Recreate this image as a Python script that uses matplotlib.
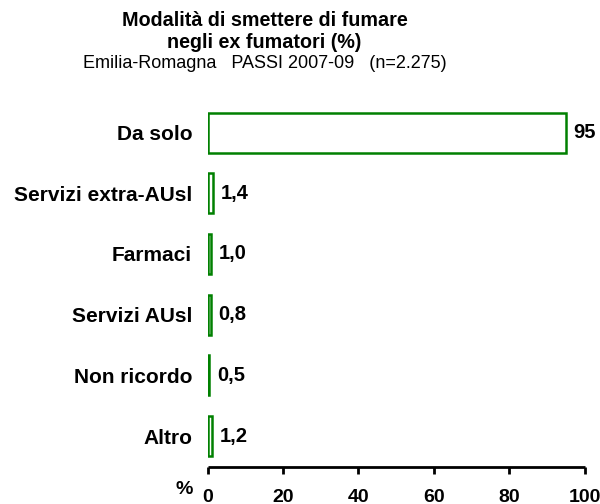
import matplotlib
matplotlib.use("Agg")
import matplotlib.pyplot as plt

categories = ["Da solo", "Servizi extra-AUsl", "Farmaci", "Servizi AUsl", "Non ricordo", "Altro"]
values = [95, 1.4, 1.0, 0.8, 0.5, 1.2]
value_labels = ["95", "1,4", "1,0", "0,8", "0,5", "1,2"]
xticks = [0, 20, 40, 60, 80, 100]

plt.rcParams['font.family'] = ['Liberation Sans', 'DejaVu Sans']

fig = plt.figure(figsize=(6, 5.04), dpi=100)
ax = fig.add_axes([207.5 / 600, 1 - 467 / 504, 377 / 600, 365.4 / 504])

green = "#008000"
y = list(range(len(categories)))
ax.barh(y, values, height=0.66, left=0, color="white", edgecolor=green, linewidth=1.8)
for yi, v, lab in zip(y, values, value_labels):
    ax.annotate(lab, xy=(v, yi), xytext=(5.5, 0), textcoords="offset points",
                va="center", ha="left", fontsize=14.5, fontweight="bold")

ax.set_xlim(0, 100)
ax.set_ylim(5.51, -0.51)
ax.set_yticks(y)
ax.set_yticklabels(categories, fontsize=15, fontweight="bold")
ax.tick_params(axis="y", length=0, pad=11)
ax.set_xticks(xticks)
ax.set_xticklabels([str(t) for t in xticks], fontsize=14, fontweight="bold")
ax.tick_params(axis="x", length=5, width=2, direction="out", pad=10.5)
for s in ["top", "right", "left"]:
    ax.spines[s].set_visible(False)
ax.spines["bottom"].set_linewidth(2)
ax.spines["bottom"].set_capstyle("butt")

fig.text(193 / 600, 1 - 489 / 504, "%", fontsize=14, fontweight="bold", ha="right", va="center")

fig.text(0.441, 1 - 20 / 504, "Modalità di smettere di fumare", fontsize=14.2, fontweight="bold", ha="center", va="center")
fig.text(0.441, 1 - 42 / 504, "negli ex fumatori (%)", fontsize=14.2, fontweight="bold", ha="center", va="center")
fig.text(0.441, 1 - 63 / 504, "Emilia-Romagna   PASSI 2007-09   (n=2.275)", fontsize=13, ha="center", va="center")

fig.savefig("out.png", dpi=100)
